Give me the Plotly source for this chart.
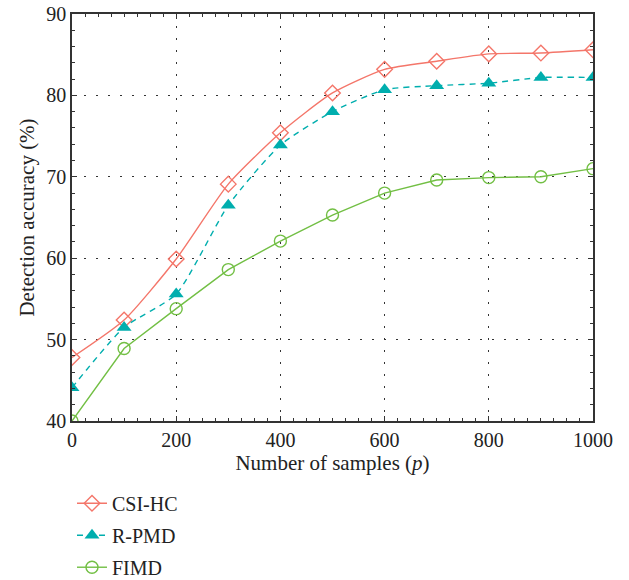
import plotly.graph_objects as go

samples = [0, 100, 200, 300, 400, 500, 600, 700, 800, 900, 1000]
csi_hc = [47.8, 52.4, 59.9, 69.1, 75.4, 80.3, 83.2, 84.2, 85.1, 85.2, 85.6]
r_pmd = [44.1, 51.5, 55.6, 66.5, 73.9, 78.0, 80.7, 81.2, 81.5, 82.2, 82.2]
fimd = [40.0, 48.9, 53.8, 58.6, 62.1, 65.3, 68.0, 69.6, 69.9, 70.0, 71.0]

x_ticks = [0, 200, 400, 600, 800, 1000]
y_ticks = [40, 50, 60, 70, 80, 90]

FONT = "Liberation Serif"
fig = go.Figure()
fig.add_trace(go.Scatter(x=samples, y=csi_hc, name="CSI-HC", mode="lines+markers", legendgroup="a",
    line=dict(color="#F4766A", width=1.4, shape="spline", smoothing=0.6),
    marker=dict(symbol="diamond-open", size=12, color="#F4766A", line=dict(width=1.4))))
fig.add_trace(go.Scatter(x=samples, y=r_pmd, name="R-PMD", mode="lines+markers", legendgroup="b",
    line=dict(color="#00AEAE", width=1.4, dash="6px,5px", shape="spline", smoothing=0.6),
    marker=dict(symbol="triangle-up", size=13, color="#00AEAE")))
fig.add_trace(go.Scatter(x=samples, y=fimd, name="FIMD", mode="lines+markers", legendgroup="c",
    line=dict(color="#72BF44", width=1.4),
    marker=dict(symbol="circle-open", size=12, color="#72BF44", line=dict(width=1.4))))

axis_common = dict(showline=True, linecolor="#333", linewidth=1.5, mirror="ticks",
                   ticks="inside", ticklen=5, tickcolor="#333",
                   showgrid=True, gridcolor="#333", griddash="1.5px,10.5px", gridwidth=1.3,
                   zeroline=False, tickfont=dict(family=FONT, size=20, color="#222"))

fig.update_xaxes(range=[0, 1000], tickvals=x_ticks,
                 minor=dict(dtick=25, ticks="inside", ticklen=3, tickcolor="#333", showgrid=False),
                 title=dict(text="Number of samples (<i>p</i>)", font=dict(family=FONT, size=21, color="#222"), standoff=4),
                 **axis_common)
fig.update_yaxes(range=[40, 90], tickvals=y_ticks,
                 minor=dict(dtick=2, ticks="inside", ticklen=3, tickcolor="#333", showgrid=False),
                 title=dict(text="Detection accuracy (%)", font=dict(family=FONT, size=21, color="#222"), standoff=6),
                 **axis_common)

fig.update_layout(width=629, height=580, margin=dict(l=72, r=36, t=14, b=159, autoexpand=False),
                  plot_bgcolor="white", paper_bgcolor="white",
                  legend=dict(x=0.0, y=0.166, yref="container", xanchor="left", yanchor="top",
                              font=dict(family=FONT, size=20, color="#222"),
                              bgcolor="rgba(0,0,0,0)", tracegroupgap=3, itemwidth=30),
                  showlegend=True)

fig.write_html("out.html")
